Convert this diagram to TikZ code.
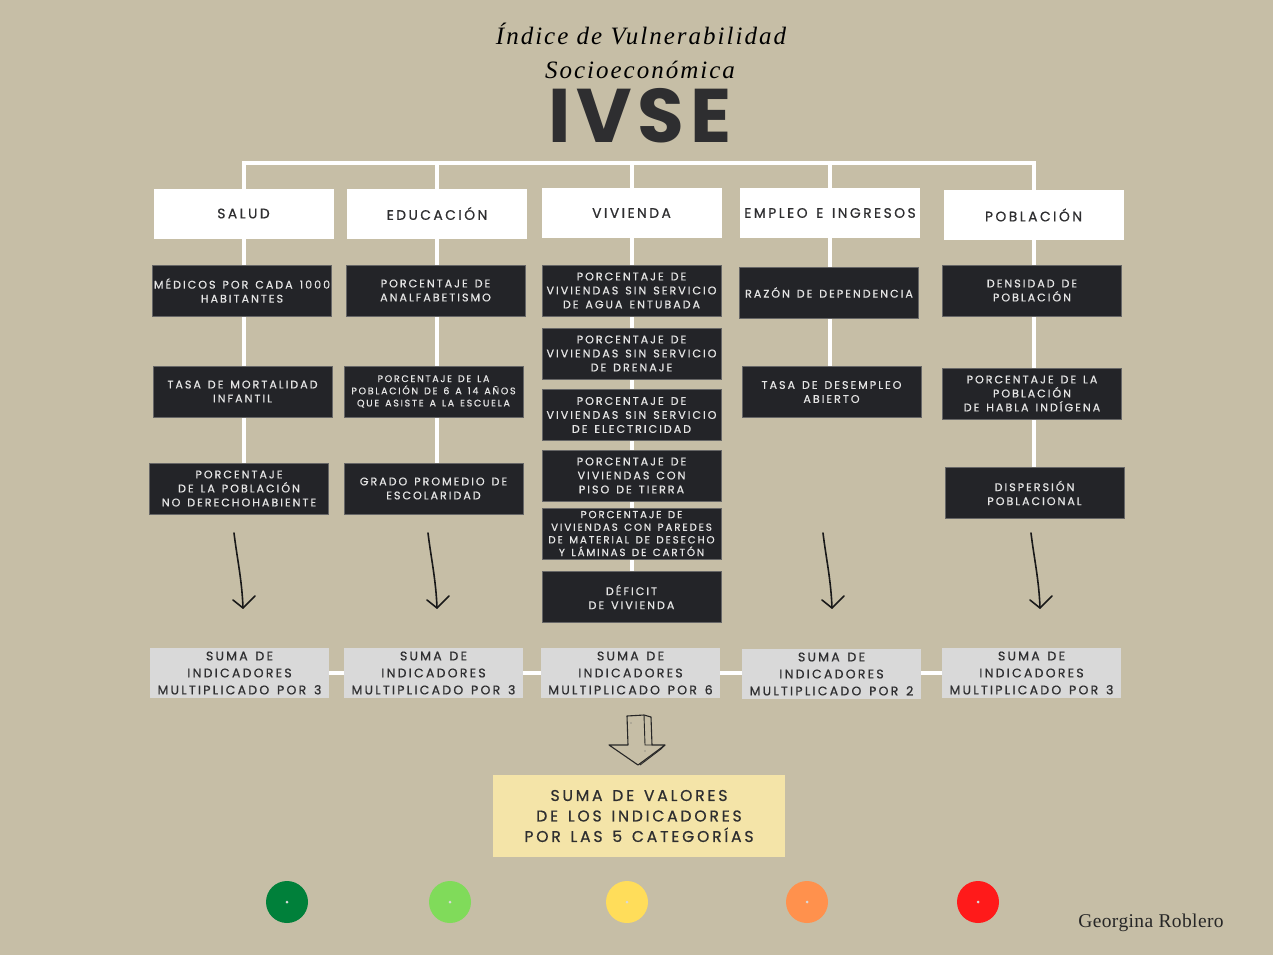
\documentclass[tikz,border=0pt]{standalone}
\usepackage{fontspec}
\setmainfont{Liberation Serif}
\newfontfamily\lbl[LetterSpace=18,WordSpace=1.4,FakeBold=0.7]{Poppins}
\newfontfamily\ttlfnt[LetterSpace=8]{Liberation Serif}
\newfontfamily\ivsefnt[LetterSpace=8]{Poppins}
\newfontfamily\sigfnt[LetterSpace=2]{Liberation Serif}
\usetikzlibrary{arrows.meta}
\pgfdeclarelayer{bg}\pgfdeclarelayer{ln}\pgfsetlayers{bg,ln,main}
\definecolor{beige}{HTML}{C6BEA6}
\definecolor{darkbox}{HTML}{232428}
\definecolor{sumgray}{HTML}{D9D9D9}
\definecolor{yel}{HTML}{F4E4A8}
\definecolor{txt}{HTML}{2E2E30}
\definecolor{cA}{HTML}{00803A}
\definecolor{cB}{HTML}{80DB5A}
\definecolor{cC}{HTML}{FFDD5A}
\definecolor{cD}{HTML}{FF914D}
\definecolor{cE}{HTML}{FF1A1A}
\tikzset{
  head/.style={fill=white, minimum width=180, minimum height=50, inner sep=0, text=txt, font=\lbl\fontsize{13.8}{16}\selectfont},
  ind/.style={fill=darkbox, draw=black!60, line width=0.6, minimum width=179, minimum height=51, inner sep=0, align=center, text=white!90!black, font=\lbl\fontsize{11.1}{14}\selectfont},
  indsm/.style={ind, font=\lbl\fontsize{9.5}{12.2}\selectfont},
  indmd/.style={ind, font=\lbl\fontsize{10.3}{12.6}\selectfont},
  sumbox/.style={fill=sumgray, minimum width=179, minimum height=50, inner sep=0, align=center, text=txt, font=\lbl\fontsize{12.5}{17}\selectfont},
  total/.style={fill=yel, minimum width=292, minimum height=82, inner sep=0, align=center, text=txt, font=\lbl\fontsize{15.6}{20.5}\selectfont},
  wline/.style={draw=white, line width=4},
  hand/.style={draw=black!90, line width=1.6, line cap=round, line join=round},
  dot/.style={circle, minimum size=42, inner sep=0},
  pip/.style={circle, fill=black!15, minimum size=3, inner sep=0},
}
\begin{document}
\begin{tikzpicture}[x=1pt,y=-1pt]
\useasboundingbox (0,0) rectangle (1273,955);
\begin{pgfonlayer}{bg}
\fill[beige] (0,0) rectangle (1273,955);
\end{pgfonlayer}
% title
\node (t1) at (641,34) {\ttlfnt\itshape\fontsize{25}{28}\selectfont Índice de Vulnerabilidad};
\node (t2) at (640,70) {\ttlfnt\itshape\fontsize{25}{28}\selectfont Socioeconómica};
\node[text=txt] (ivse) at (640,116) {\ivsefnt\bfseries\fontsize{76}{80}\selectfont IVSE};
% headers
\node[head] (salud) at (243.5,213.5) {SALUD};
\node[head] (edu) at (437,213.5) {EDUCACIÓN};
\node[head] (viv) at (631.5,213) {VIVIENDA};
\node[head] (emp) at (830,213) {EMPLEO E INGRESOS};
\node[head] (pob) at (1033.5,215) {POBLACIÓN};
% salud
\node[ind] (s1) at (242,290.5) {MÉDICOS POR CADA 1000\\HABITANTES};
\node[ind] (s2) at (242.5,391.5) {TASA DE MORTALIDAD\\INFANTIL};
\node[ind] (s3) at (239,488.5) {PORCENTAJE\\DE LA POBLACIÓN\\NO DERECHOHABIENTE};
% educacion
\node[ind] (e1) at (435.5,290.5) {PORCENTAJE DE\\ANALFABETISMO};
\node[indsm] (e2) at (433.5,391.5) {PORCENTAJE DE LA\\POBLACIÓN DE 6 A 14 AÑOS\\QUE ASISTE A LA ESCUELA};
\node[ind] (e3) at (433.5,488.5) {GRADO PROMEDIO DE\\ESCOLARIDAD};
% vivienda
\node[ind] (v1) at (631.5,290.5) {PORCENTAJE DE\\VIVIENDAS SIN SERVICIO\\DE AGUA ENTUBADA};
\node[ind] (v2) at (631.5,353.5) {PORCENTAJE DE\\VIVIENDAS SIN SERVICIO\\DE DRENAJE};
\node[ind] (v3) at (631.5,415) {PORCENTAJE DE\\VIVIENDAS SIN SERVICIO\\DE ELECTRICIDAD};
\node[ind] (v4) at (631.5,475.5) {PORCENTAJE DE\\VIVIENDAS CON\\PISO DE TIERRA};
\node[indmd] (v5) at (631.5,533.5) {PORCENTAJE DE\\VIVIENDAS CON PAREDES\\DE MATERIAL DE DESECHO\\Y LÁMINAS DE CARTÓN};
\node[ind] (v6) at (631.5,597) {DÉFICIT\\DE VIVIENDA};
% empleo
\node[ind] (m1) at (829,292.5) {RAZÓN DE DEPENDENCIA};
\node[ind] (m2) at (831.5,392) {TASA DE DESEMPLEO\\ABIERTO};
% poblacion
\node[ind] (p1) at (1032,290.5) {DENSIDAD DE\\POBLACIÓN};
\node[ind] (p2) at (1032,393.5) {PORCENTAJE DE LA\\POBLACIÓN\\DE HABLA INDÍGENA};
\node[ind] (p3) at (1034.5,493) {DISPERSIÓN\\POBLACIONAL};
% sums
\node[sumbox] (u1) at (239.5,673) {SUMA DE\\INDICADORES\\MULTIPLICADO POR 3};
\node[sumbox] (u2) at (433.5,673) {SUMA DE\\INDICADORES\\MULTIPLICADO POR 3};
\node[sumbox] (u3) at (630.5,673) {SUMA DE\\INDICADORES\\MULTIPLICADO POR 6};
\node[sumbox] (u4) at (831.5,674) {SUMA DE\\INDICADORES\\MULTIPLICADO POR 2};
\node[sumbox] (u5) at (1031.5,673) {SUMA DE\\INDICADORES\\MULTIPLICADO POR 3};
% total
\node[total] (tot) at (639,816) {SUMA DE VALORES\\DE LOS INDICADORES\\POR LAS 5 CATEGORÍAS};
% structure lines
\coordinate (k1) at (244,163);
\coordinate (k2) at (437,163);
\coordinate (k3) at (632,163);
\coordinate (k4) at (830,163);
\coordinate (k5) at (1034,163);
\begin{pgfonlayer}{ln}
\draw[wline] ([xshift=-2]k1) -- ([xshift=2]k5);
\draw[wline] (k1) -- (k1 |- s3.north);
\draw[wline] (k2) -- (k2 |- e3.north);
\draw[wline] (k3) -- (k3 |- v6.north);
\draw[wline] (k4) -- (k4 |- m2.south);
\draw[wline] (k5) -- (k5 |- p3.north);
\draw[wline] (u1.center) -- (u5.center);
\end{pgfonlayer}
% hand drawn arrows
\foreach \n/\xa in {1/234, 2/428, 4/823, 5/1031}{
  \coordinate (as\n) at (\xa,533);
  \coordinate (ae\n) at (\xa+9,608);
  \draw[hand] (as\n) .. controls +(3,25) and +(-1,-28) .. (ae\n);
  \draw[hand] ([shift={(-10,-8)}]ae\n) -- (ae\n) -- ([shift={(12,-12)}]ae\n);
}
% hollow arrow
\draw[black!85, line width=1.1, line join=round]
  (627,716) -- (628,745) -- (609,745) -- (638,765) -- (665,745) -- (652,745) -- (651,717) -- (644,715) -- cycle;
\draw[black!85, line width=0.9] (644,715) -- (645,745) -- (652,745);
\draw[black!85, line width=0.9] (665,745) -- (661,749) -- (640,765);
\fill[black!60] (631,723) circle (0.7) (645,751) circle (0.7);
% circles
\foreach \c/\xc in {A/287, B/450, C/627, D/807, E/978}{
  \node[dot, fill=c\c] (d\c) at (\xc,902) {};
  \node[pip] at (d\c.center) {};
}
\node[text=black!85] (sig) at (1151,923) {\sigfnt\fontsize{19.5}{22}\selectfont Georgina Roblero};
\end{tikzpicture}
\end{document}
